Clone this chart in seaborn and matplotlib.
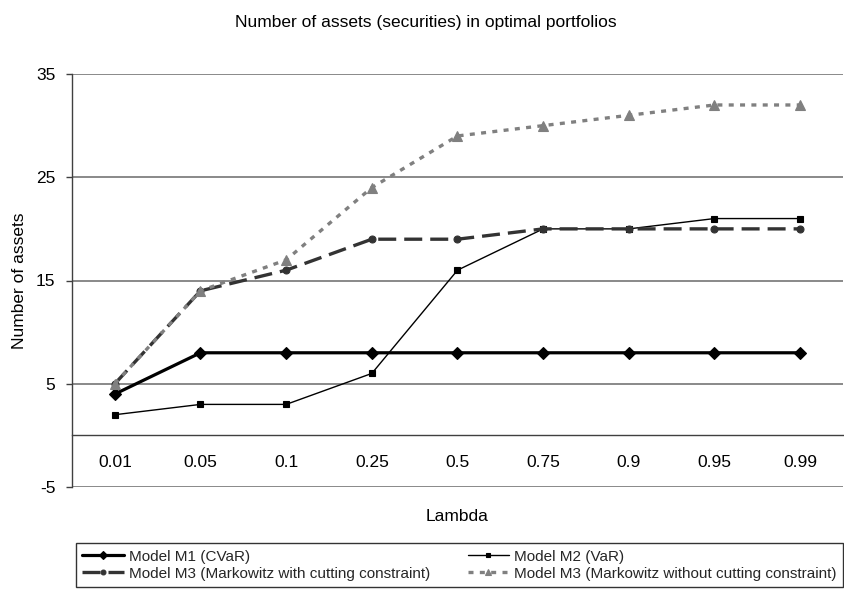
import numpy as np
import pandas as pd
import matplotlib
matplotlib.use("Agg")
import matplotlib.pyplot as plt
import seaborn as sns

# Risk-aversion levels and the number of securities held in each optimal portfolio
lambdas = ["0.01", "0.05", "0.1", "0.25", "0.5", "0.75", "0.9", "0.95", "0.99"]
m1_cvar = [4, 8, 8, 8, 8, 8, 8, 8, 8]
m2_var = [2, 3, 3, 6, 16, 20, 20, 21, 21]
m3_with_cut = [5, 14, 16, 19, 19, 20, 20, 20, 20]
m3_without_cut = [5, 14, 17, 24, 29, 30, 31, 32, 32]

series_names = [
    "Model M1 (CVaR)",
    "Model M2 (VaR)",
    "Model M3 (Markowitz with cutting constraint)",
    "Model M3 (Markowitz without cutting constraint)",
]
yticks = [-5, 5, 15, 25, 35]

sns.set_theme(style="white")
plt.rcParams["font.family"] = ["Liberation Sans", "DejaVu Sans"]
plt.rcParams["axes.unicode_minus"] = False

pos = np.arange(len(lambdas))
df = pd.DataFrame({
    "pos": np.tile(pos, 4),
    "assets": m1_cvar + m2_var + m3_with_cut + m3_without_cut,
    "model": np.repeat(series_names, len(lambdas)),
})

styles = {
    series_names[0]: dict(color="black", linewidth=2.3, linestyle="-",
                          marker="D", markersize=6),
    series_names[1]: dict(color="black", linewidth=1.0, linestyle="-",
                          marker="s", markersize=5),
    series_names[2]: dict(color="#333333", linewidth=2.4, linestyle=(0, (5.4, 2.4)),
                          marker="o", markersize=5),
    series_names[3]: dict(color="#808080", linewidth=2.4, linestyle=(0, (1.5, 1.9)),
                          marker="^", markersize=6.5),
}

fig = plt.figure(figsize=(8.45, 5.91), dpi=100)
ax = fig.add_axes([72 / 845, 1 - 487 / 591, 771 / 845, 413 / 591])

for name in series_names:
    st = styles[name]
    sns.lineplot(data=df[df["model"] == name], x="pos", y="assets", ax=ax,
                 label=name, markeredgecolor=st["color"], markeredgewidth=0.8,
                 **st)

handles, labels = ax.get_legend_handles_labels()
if ax.get_legend() is not None:
    ax.get_legend().remove()

# Axes ranges and gridlines
ax.set_xlim(-0.5, len(lambdas) - 0.5)
ax.set_ylim(-5, 35)
ax.set_yticks(yticks)
ax.yaxis.grid(True, color="#808080", linewidth=1.3)
ax.xaxis.grid(False)
ax.set_axisbelow(True)

for s in ("top", "right"):
    ax.spines[s].set_visible(False)
ax.spines["left"].set_color("#404040")
ax.spines["left"].set_linewidth(1.0)
ax.spines["bottom"].set_position(("data", 0))
ax.spines["bottom"].set_color("#404040")
ax.spines["bottom"].set_linewidth(1.0)

# Category boundaries carry the tick marks, category centres carry the labels
ax.set_xticks(pos[:-1] + 0.5)
ax.set_xticklabels([])
ax.set_xticks(pos, minor=True)
ax.set_xticklabels(lambdas, minor=True)
ax.tick_params(axis="x", which="major", direction="in", length=4, width=1,
               color="#404040")
ax.tick_params(axis="x", which="minor", length=0, pad=14, labelsize=12.5,
               labelcolor="black")
ax.tick_params(axis="y", direction="out", length=4.5, width=1, color="#404040",
               pad=7.5, labelsize=12.5, labelcolor="black", left=True)

ax.set_xlabel("Lambda", fontsize=12.5, color="black")
ax.xaxis.set_label_coords(0.5, -0.0726)
ax.xaxis.label.set_verticalalignment("center")
ax.set_ylabel("Number of assets", fontsize=12.5, color="black")
ax.yaxis.set_label_coords(-0.0687, 0.5)
ax.yaxis.label.set_verticalalignment("center")

fig.text(426 / 845, 1 - 22 / 591, "Number of assets (securities) in optimal portfolios",
         ha="center", va="center", fontsize=12.5, color="black")

# Two-column legend filled row by row: M1 | M2 on top, the two M3 variants below
order = [0, 2, 1, 3]
leg = fig.legend([handles[i] for i in order], [labels[i] for i in order],
                 loc="lower left", ncol=2, mode="expand",
                 bbox_to_anchor=(76 / 845, 1 - 587 / 591, 767 / 845, 44 / 591),
                 fontsize=11, frameon=True, fancybox=False, handlelength=2.7,
                 handletextpad=0.33, labelspacing=0.2, borderpad=0.42,
                 borderaxespad=0, columnspacing=1.0, markerscale=0.7)
leg.get_frame().set_edgecolor("black")
leg.get_frame().set_linewidth(1.0)
leg.get_frame().set_facecolor("white")

fig.savefig("out.png", dpi=100)
